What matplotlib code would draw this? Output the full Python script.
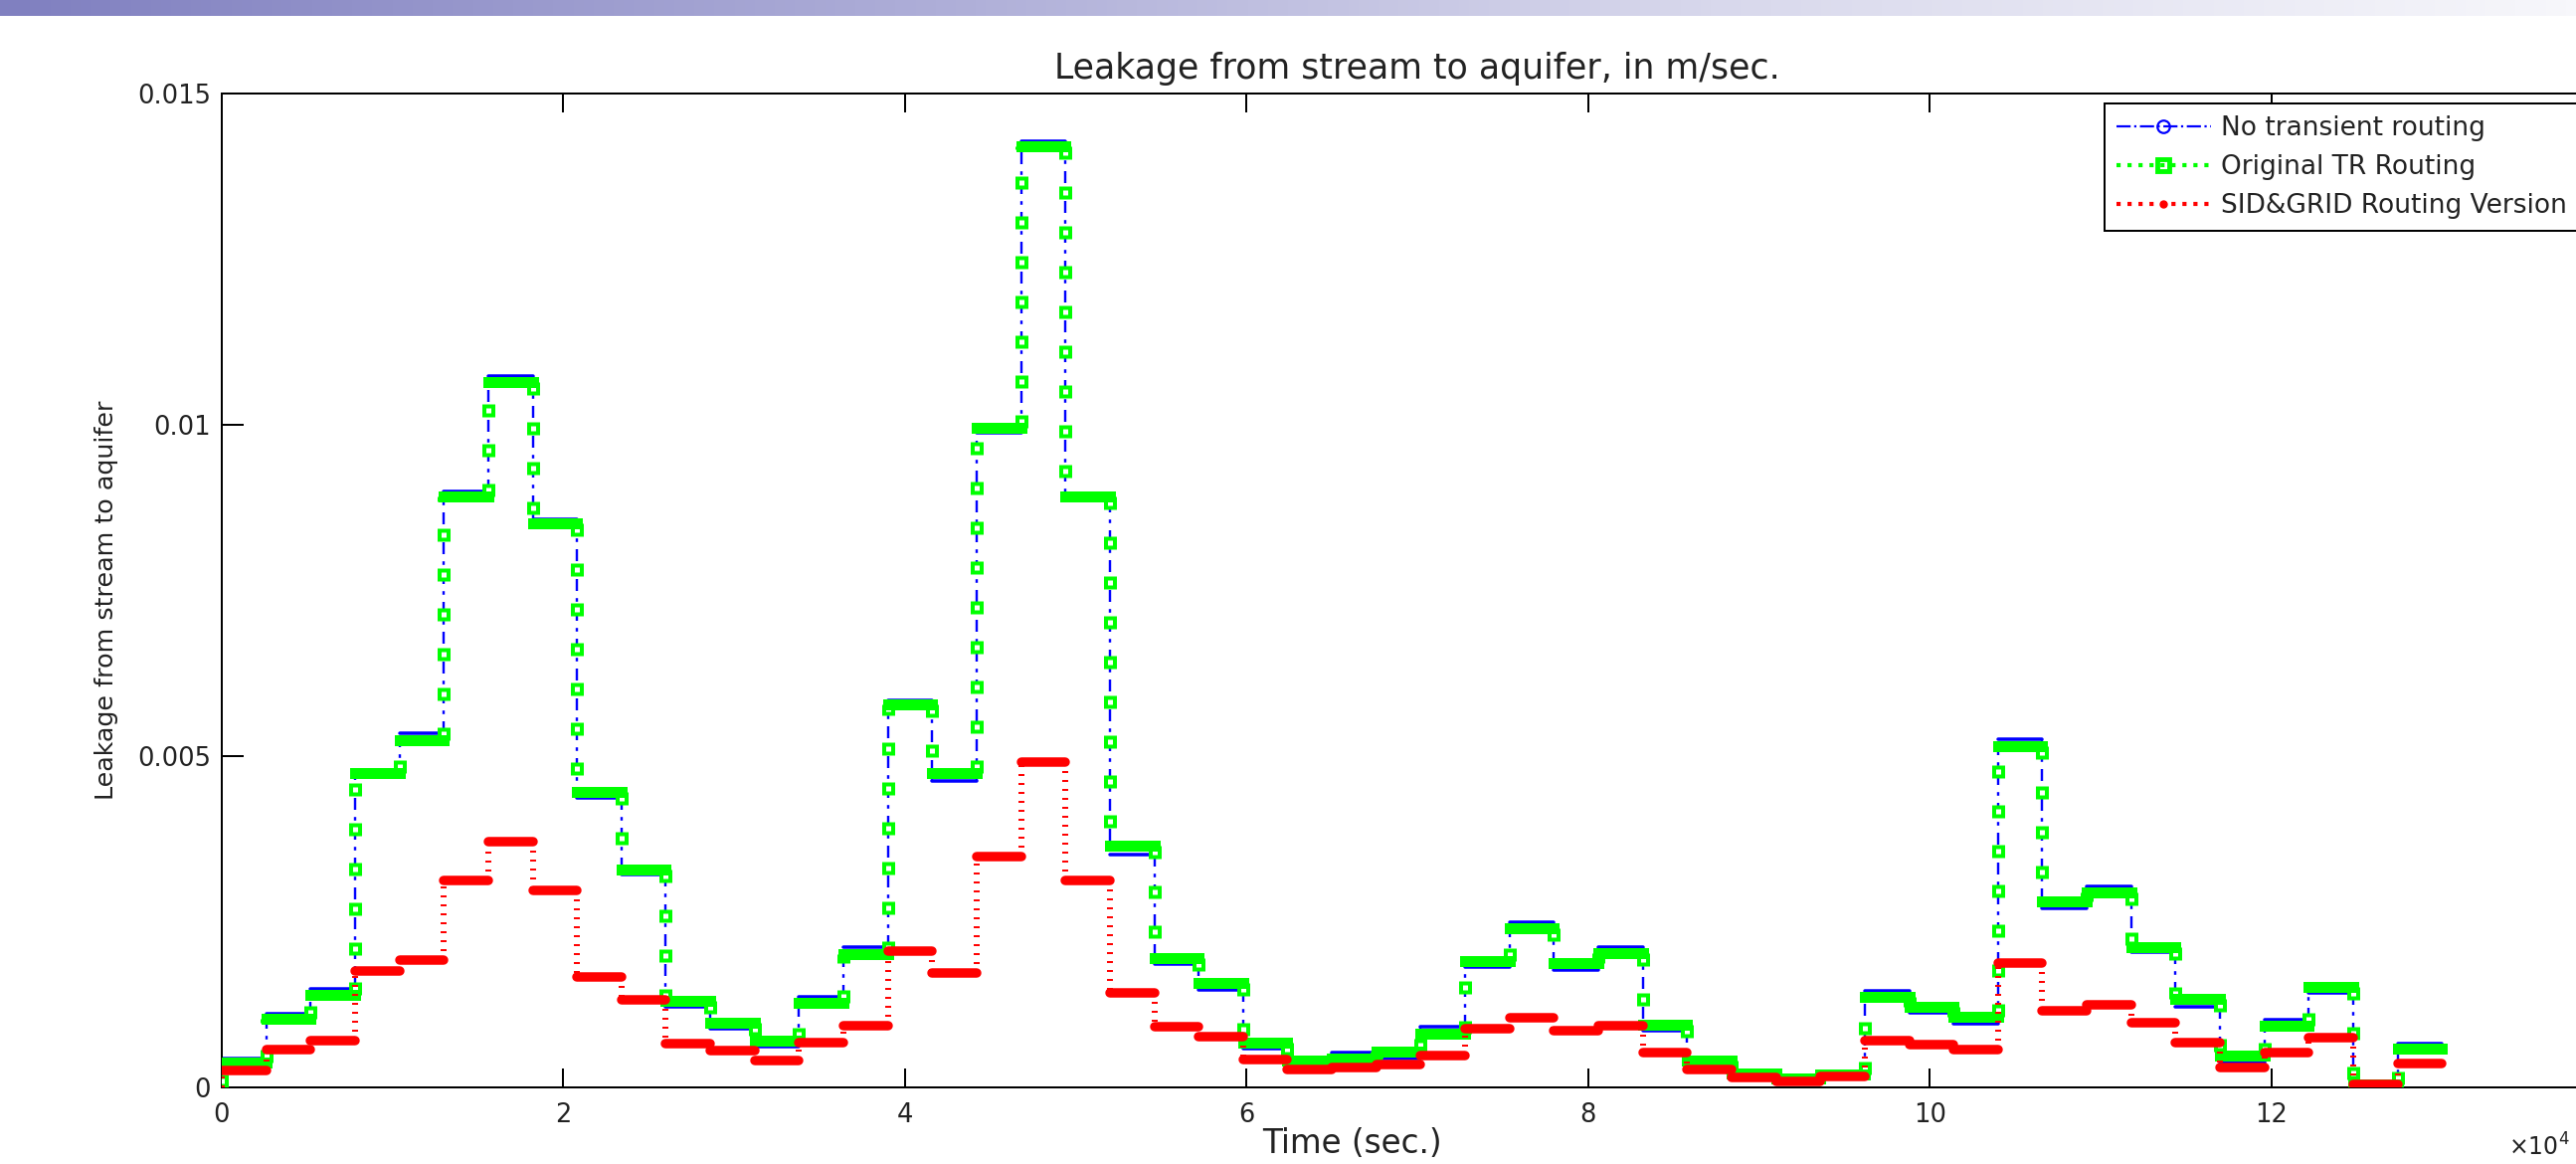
import numpy as np
import matplotlib
matplotlib.use("Agg")
import matplotlib.pyplot as plt
from matplotlib.lines import Line2D
from matplotlib.colors import LinearSegmentedColormap

# ---------------- data ----------------
# step boundaries of the stress periods (x 10^4 sec.)
time_edges = np.round(np.arange(51) * 0.26, 2)

no_transient = [0.00044, 0.00111, 0.00148, 0.00468, 0.00534, 0.00900, 0.01073, 0.00858,
                0.00437, 0.00321, 0.00122, 0.00089, 0.00062, 0.00137, 0.00211, 0.00584,
                0.00462, 0.00988, 0.01428, 0.00886, 0.00351, 0.00186, 0.00147, 0.00058,
                0.00036, 0.00052, 0.00043, 0.00091, 0.00181, 0.00250, 0.00177, 0.00211,
                0.00085, 0.00036, 0.00018, 0.00012, 0.00018, 0.00146, 0.00112, 0.00096,
                0.00525, 0.00270, 0.00303, 0.00204, 0.00122, 0.00038, 0.00102, 0.00143,
                -0.00007, 0.00066]

original_tr = [0.00037, 0.00104, 0.00140, 0.00475, 0.00524, 0.00892, 0.01065, 0.00852,
               0.00446, 0.00329, 0.00131, 0.00097, 0.00070, 0.00127, 0.00201, 0.00578,
               0.00475, 0.00996, 0.01420, 0.00892, 0.00365, 0.00195, 0.00157, 0.00067,
               0.00041, 0.00044, 0.00054, 0.00081, 0.00190, 0.00240, 0.00187, 0.00202,
               0.00094, 0.00040, 0.00021, 0.00013, 0.00020, 0.00136, 0.00122, 0.00106,
               0.00515, 0.00281, 0.00294, 0.00212, 0.00133, 0.00048, 0.00093, 0.00152,
               0.00005, 0.00058]

sid_grid = [0.00025, 0.00057, 0.00071, 0.00176, 0.00192, 0.00313, 0.00371, 0.00298,
            0.00167, 0.00132, 0.00066, 0.00056, 0.00041, 0.00067, 0.00093, 0.00206,
            0.00173, 0.00348, 0.00491, 0.00312, 0.00143, 0.00091, 0.00077, 0.00042,
            0.00027, 0.00030, 0.00034, 0.00048, 0.00088, 0.00105, 0.00085, 0.00093,
            0.00052, 0.00027, 0.00015, 0.00009, 0.00017, 0.00070, 0.00064, 0.00057,
            0.00188, 0.00116, 0.00124, 0.00097, 0.00067, 0.00030, 0.00052, 0.00075,
            0.00005, 0.00036]

series_labels = ["No transient routing", "Original TR Routing", "SID&GRID Routing Version"]
x_ticks = [0, 2, 4, 6, 8, 10, 12]
x_tick_labels = ["0", "2", "4", "6", "8", "10", "12"]
y_ticks = [0, 0.005, 0.01, 0.015]
y_tick_labels = ["0", "0.005", "0.01", "0.015"]

# ---------------- figure ----------------
W, H = 2590, 1170
DPI = 100
PX = 72.0 / DPI  # points per pixel
plt.rcParams["font.family"] = ["DejaVu Sans"]

fig = plt.figure(figsize=(W / DPI, H / DPI), dpi=DPI)
fig.patch.set_facecolor("white")

# slide header gradient
gax = fig.add_axes([0, 1 - 16 / H, 1, 16 / H])
hdr = LinearSegmentedColormap.from_list("hdr", ["#8080c0", "#aaaad6", "#d8d8ec", "#f7f7fb"])
gax.imshow(np.linspace(0, 1, 512)[None, :], aspect="auto", cmap=hdr, extent=[0, 1, 0, 1])
gax.axis("off")

x0, x1 = 223, 2627
y0, y1 = 94, 1093
ax = fig.add_axes([x0 / W, 1 - y1 / H, (x1 - x0) / W, (y1 - y0) / H])
ax.set_xlim(0, 14)
ax.set_ylim(0, 0.015)

left = time_edges[:-1]
right = time_edges[1:]


def vert(vals):
    v = np.concatenate([[0.0], np.asarray(vals)])
    return time_edges[:-1], v[:-1], v[1:]


GREEN = "#00ff00"
BLUE = "#0000ff"
RED = "#ff0000"

# --- no transient routing (blue, dash-dot, circles)
xv, lo, hi = vert(no_transient)
ax.vlines(xv, lo, hi, colors=BLUE, linewidth=2.4 * PX,
          linestyles=(0, (5, 3, 1.5, 3)), zorder=2)
hb = ax.hlines(no_transient, left, right, colors=BLUE, linewidth=3.5 * PX, zorder=2)
hb.set_capstyle("round")

# --- original TR routing (green, dotted, squares)
xv, lo, hi = vert(original_tr)
ax.vlines(xv, lo, hi, colors=GREEN, linewidth=13 * PX,
          linestyles=(0, (1.0, 2.0769)), zorder=3)
ax.vlines(xv, lo, hi, colors="white", linewidth=5 * PX,
          linestyles=(7.2, (1.0, 7.0)), zorder=3.1)
hg = ax.hlines(original_tr, left, right, colors=GREEN, linewidth=11 * PX, zorder=3.2)
hg.set_capstyle("projecting")

# --- SID&GRID routing version (red, dotted, dots)
xv, lo, hi = vert(sid_grid)
ax.vlines(xv, lo, hi, colors=RED, linewidth=6 * PX,
          linestyles=(0, (0.33, 1.17)), zorder=4)
hr = ax.hlines(sid_grid, left, right, colors=RED, linewidth=9.5 * PX, zorder=4.1)
hr.set_capstyle("round")

# ---------------- axes styling ----------------
for s in ax.spines.values():
    s.set_linewidth(2 * PX)
    s.set_color("black")
ax.set_xticks(x_ticks)
ax.set_xticklabels(x_tick_labels)
ax.set_yticks(y_ticks)
ax.set_yticklabels(y_tick_labels)
ax.tick_params(axis="x", direction="in", length=19 * PX, width=2 * PX, top=True,
               labelsize=18.5, pad=11, colors="black", labelcolor="#222222")
ax.tick_params(axis="y", direction="in", length=22 * PX, width=2 * PX, right=True,
               labelsize=18.5, pad=8, colors="black", labelcolor="#222222")

ax.set_title("Leakage from stream to aquifer, in m/sec.", fontsize=25, pad=11, color="#222222")
ax.set_xlabel("Time (sec.)", fontsize=23.5, color="#222222")
ax.xaxis.set_label_coords((1359 - x0) / (x1 - x0), -(1133 - y1) / (y1 - y0))
ax.set_ylabel("Leakage from stream to aquifer", fontsize=18.3, color="#222222")
ax.yaxis.set_label_coords((119 - x0) / (x1 - x0), 0.49)

fig.text(2584 / W, 3 / H, r"$\times10^{4}$", fontsize=17, ha="right", va="bottom",
         color="#222222")

handles = [
    Line2D([], [], color=BLUE, ls="-.", lw=1.6, marker="o", mfc="none", mec=BLUE,
           ms=9, mew=1.6),
    Line2D([], [], color=GREEN, ls=":", lw=3, marker="s", mfc="none", mec=GREEN,
           ms=8, mew=3.5),
    Line2D([], [], color=RED, ls=":", lw=3, marker="o", mfc=RED, mec=RED, ms=5),
]
leg = ax.legend(handles, series_labels, loc="upper left",
                bbox_to_anchor=(2116 / W, 1 - 104 / H), bbox_transform=fig.transFigure,
                borderaxespad=0, fontsize=19, frameon=True, fancybox=False,
                edgecolor="black", framealpha=1, handlelength=3.6, handletextpad=0.4,
                borderpad=0.45, labelspacing=0.5, numpoints=1)
leg.get_frame().set_linewidth(2 * PX)
for t in leg.get_texts():
    t.set_color("#222222")

fig.savefig("out.png", dpi=DPI)
